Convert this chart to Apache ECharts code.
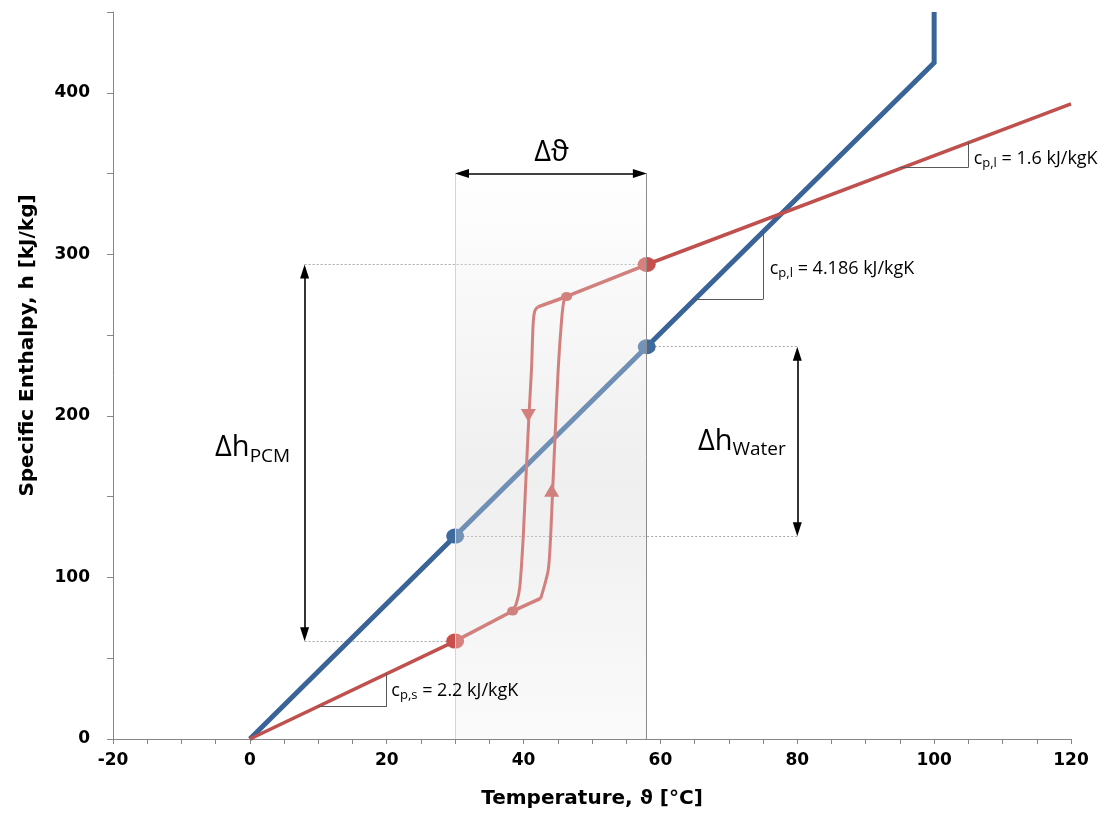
<!DOCTYPE html>
<html>
<head>
<meta charset="utf-8">
<script src="https://cdn.jsdelivr.net/npm/echarts@6/dist/echarts.min.js"></script>
<style>
  html, body { margin: 0; background: #fff; }
  #chart { width: 1110px; height: 819px; }
</style>
</head>
<body>
<div id="chart"></div>
<script>
// water: sensible heat up to boiling point
const waterLine = [[0, 0], [30, 125.6], [58, 242.8], [100, 418.6], [100, 450]]
const waterPoints = [[30, 125.6], [58, 242.8]]

// PCM: solid, melting/solidification hysteresis, liquid
const pcmSolid = [[0, 0], [30, 60.6], [38.4, 79.2], [42.5, 87.0]]
const pcmHeating = [[42.5, 87.0], [43.6, 104.5], [43.95, 125.1], [44.25, 153.9], [44.6, 186.9], [45.05, 228.1], [45.55, 259.0], [45.9, 271.4], [46.3, 273.9]]
const pcmCooling = [[42.1, 267.5], [41.65, 265.2], [41.4, 257.0], [41.15, 228.1], [40.8, 201.4], [40.4, 166.3], [39.95, 125.1], [39.45, 94.2], [38.95, 83.9], [38.4, 79.2]]
const pcmLiquid = [[42.1, 267.5], [46.3, 273.9], [58, 293.7], [120, 393.2]]
const pcmPoints = [[30, 60.6], [58, 293.7]]
const pcmTurnPoints = [[38.4, 79.2], [46.3, 273.9]]
const coolingArrow = [[40.7, 200.3]]
const heatingArrow = [[44.1, 153.9]]

// temperature window and enthalpy differences
const tLow = 30
const tHigh = 58
const tArrowY = 350
const hPcm = [60.6, 293.7]
const hWater = [125.6, 242.8]

const blue = '#3a6497'
const red = '#c0504d'
const font = '"Open Sans", "DejaVu Sans", sans-serif'
const boldFont = '"DejaVu Sans", sans-serif'

const chart = echarts.init(document.getElementById('chart'))

function seg(a, b, style) {
  return [{ coord: a, lineStyle: style }, { coord: b }]
}

const thin = { color: '#595959', width: 1, type: 'solid' }
const dotted = { color: '#a6a6a6', width: 1, type: [2, 2] }
const arrowStyle = { color: '#000', width: 1.6, type: 'solid' }

function note(coord, text, align) {
  return {
    coord: coord,
    label: { formatter: text, position: align === 'left' ? 'right' : 'inside', distance: 0 }
  }
}

chart.setOption({
  animation: false,
  grid: { left: 113, right: 39, top: 12, bottom: 80 },
  xAxis: {
    type: 'value',
    min: -20,
    max: 120,
    interval: 20,
    name: 'Temperature, ϑ [°C]',
    nameLocation: 'middle',
    nameGap: 50,
    nameTextStyle: { fontFamily: boldFont, fontWeight: 'bold', fontSize: 20, color: '#000' },
    axisLine: { lineStyle: { color: '#868686' } },
    axisTick: { length: 5, lineStyle: { color: '#868686' } },
    minorTick: { show: true, splitNumber: 4, length: 5, lineStyle: { color: '#868686' } },
    splitLine: { show: false },
    axisLabel: { fontFamily: boldFont, fontWeight: 'bold', fontSize: 17, color: '#000', margin: 13 }
  },
  yAxis: {
    type: 'value',
    min: 0,
    max: 450,
    interval: 100,
    name: 'Specific Enthalpy, h [kJ/kg]',
    nameLocation: 'middle',
    nameGap: 75,
    nameTextStyle: { fontFamily: boldFont, fontWeight: 'bold', fontSize: 20, color: '#000', padding: [0, 0, 0, 60] },
    axisLine: { show: true, onZero: false, lineStyle: { color: '#868686' } },
    axisTick: { show: true, length: 6, lineStyle: { color: '#868686' } },
    minorTick: { show: true, splitNumber: 2, length: 6, lineStyle: { color: '#868686' } },
    splitLine: { show: false },
    axisLabel: { fontFamily: boldFont, fontWeight: 'bold', fontSize: 17, color: '#000', margin: 23, showMaxLabel: false }
  },
  series: [
    {
      // shaded temperature window + guide lines
      type: 'line',
      data: [],
      silent: true,
      markArea: {
        z: 1,
        silent: true,
        itemStyle: {
          color: {
            type: 'linear', x: 0, y: 0, x2: 0, y2: 1,
            colorStops: [
              { offset: 0, color: '#ffffff' },
              { offset: 0.55, color: '#e9e9e9' },
              { offset: 1, color: '#f9f9f9' }
            ]
          }
        },
        data: [[{ coord: [tLow, 0] }, { coord: [tHigh, tArrowY] }]]
      },
      markLine: {
        z: 2,
        silent: true,
        symbol: 'none',
        label: { show: false },
        data: [
          seg([8, hPcm[1]], [tHigh, hPcm[1]], dotted),
          seg([8, hPcm[0]], [tLow, hPcm[0]], dotted),
          seg([tHigh, hWater[1]], [80, hWater[1]], dotted),
          seg([tLow, hWater[0]], [80, hWater[0]], dotted)
        ]
      }
    },
    {
      name: 'Water',
      type: 'line',
      data: waterLine,
      symbol: 'none',
      z: 3,
      lineStyle: { color: blue, width: 5, join: 'miter' }
    },
    {
      type: 'line',
      data: pcmSolid,
      symbol: 'none',
      z: 3,
      lineStyle: { color: red, width: 3.5 }
    },
    {
      type: 'line',
      data: pcmLiquid,
      symbol: 'none',
      z: 3,
      lineStyle: { color: red, width: 3.5 }
    },
    {
      type: 'line',
      data: pcmHeating,
      symbol: 'none',
      smooth: 0.25,
      z: 3,
      lineStyle: { color: red, width: 3 }
    },
    {
      type: 'line',
      data: pcmCooling,
      symbol: 'none',
      smooth: 0.25,
      z: 3,
      lineStyle: { color: red, width: 3 }
    },
    {
      type: 'scatter',
      data: waterPoints,
      symbolSize: [18, 15],
      z: 4,
      itemStyle: { color: '#3f6a9e', opacity: 1 }
    },
    {
      type: 'scatter',
      data: pcmPoints,
      symbolSize: [18, 15],
      z: 4,
      itemStyle: { color: '#c94f4c', opacity: 1 }
    },
    {
      type: 'scatter',
      data: pcmTurnPoints,
      symbolSize: [11, 9],
      z: 4,
      itemStyle: { color: red, opacity: 1 }
    },
    {
      type: 'scatter',
      data: coolingArrow,
      symbol: 'triangle',
      symbolRotate: 180,
      symbolSize: [15, 13],
      z: 4,
      itemStyle: { color: red, opacity: 1 }
    },
    {
      type: 'scatter',
      data: heatingArrow,
      symbol: 'triangle',
      symbolSize: [15, 13],
      z: 4,
      itemStyle: { color: red, opacity: 1 }
    },
    {
      // veil over the window, lightens everything inside it
      type: 'line',
      data: [],
      silent: true,
      markArea: {
        z: 10,
        silent: true,
        itemStyle: { color: 'rgba(255,255,255,0.28)' },
        data: [[{ coord: [tLow, 0] }, { coord: [tHigh, tArrowY] }]]
      },
      markLine: {
        z: 11,
        silent: true,
        symbol: 'none',
        label: { show: false },
        data: [
          seg([tLow, 0], [tLow, tArrowY], { color: '#d4d4d4', width: 1, type: 'solid' }),
          seg([tHigh, 0], [tHigh, tArrowY], { color: '#8c8c8c', width: 1, type: 'solid' }),
          // slope triangles
          seg([95, 353.7], [105, 353.7], thin),
          seg([105, 353.7], [105, 369.7], thin),
          seg([65, 272.1], [75, 272.1], thin),
          seg([75, 272.1], [75, 314.0], thin),
          seg([10, 20.2], [20, 20.2], thin),
          seg([20, 20.2], [20, 40.4], thin)
        ]
      }
    },
    {
      // dimension arrows
      type: 'line',
      data: [],
      silent: true,
      markLine: {
        z: 12,
        silent: true,
        symbol: ['triangle', 'triangle'],
        symbolSize: [9, 14],
        label: { show: false },
        lineStyle: arrowStyle,
        data: [
          [{ coord: [tLow + 1, tArrowY] }, { coord: [tHigh - 1, tArrowY] }],
          [{ coord: [8, hPcm[0] + 4.3] }, { coord: [8, hPcm[1] - 4.3] }],
          [{ coord: [80, hWater[0] + 4.3] }, { coord: [80, hWater[1] - 4.3] }]
        ]
      }
    },
    {
      // text notes
      type: 'line',
      data: [],
      silent: true,
      markPoint: {
        z: 12,
        silent: true,
        symbol: 'rect',
        symbolSize: 1,
        itemStyle: { color: 'rgba(0,0,0,0)' },
        label: {
          show: true,
          color: '#000',
          fontFamily: font,
          rich: {
            big: { fontFamily: font, fontSize: 29, color: '#000' },
            bsub: { fontFamily: font, fontSize: 19, color: '#000', padding: [16, 0, 0, 0] },
            m: { fontFamily: font, fontSize: 18, color: '#000' },
            s: { fontFamily: font, fontSize: 13, color: '#000', padding: [9, 0, 0, 0] }
          }
        },
        data: [
          note([44.1, 363], '{big|Δϑ}'),
          note([0.4, 180], '{big|Δh}{bsub|PCM}'),
          note([71.9, 184], '{big|Δh}{bsub|Water}'),
          note([105.7, 359], '{m|c}{s|p,l}{m| = 1.6 kJ/kgK}', 'left'),
          note([75.9, 291], '{m|c}{s|p,l}{m| = 4.186 kJ/kgK}', 'left'),
          note([20.6, 30], '{m|c}{s|p,s}{m| = 2.2 kJ/kgK}', 'left')
        ]
      }
    }
  ]
})
</script>
</body>
</html>
